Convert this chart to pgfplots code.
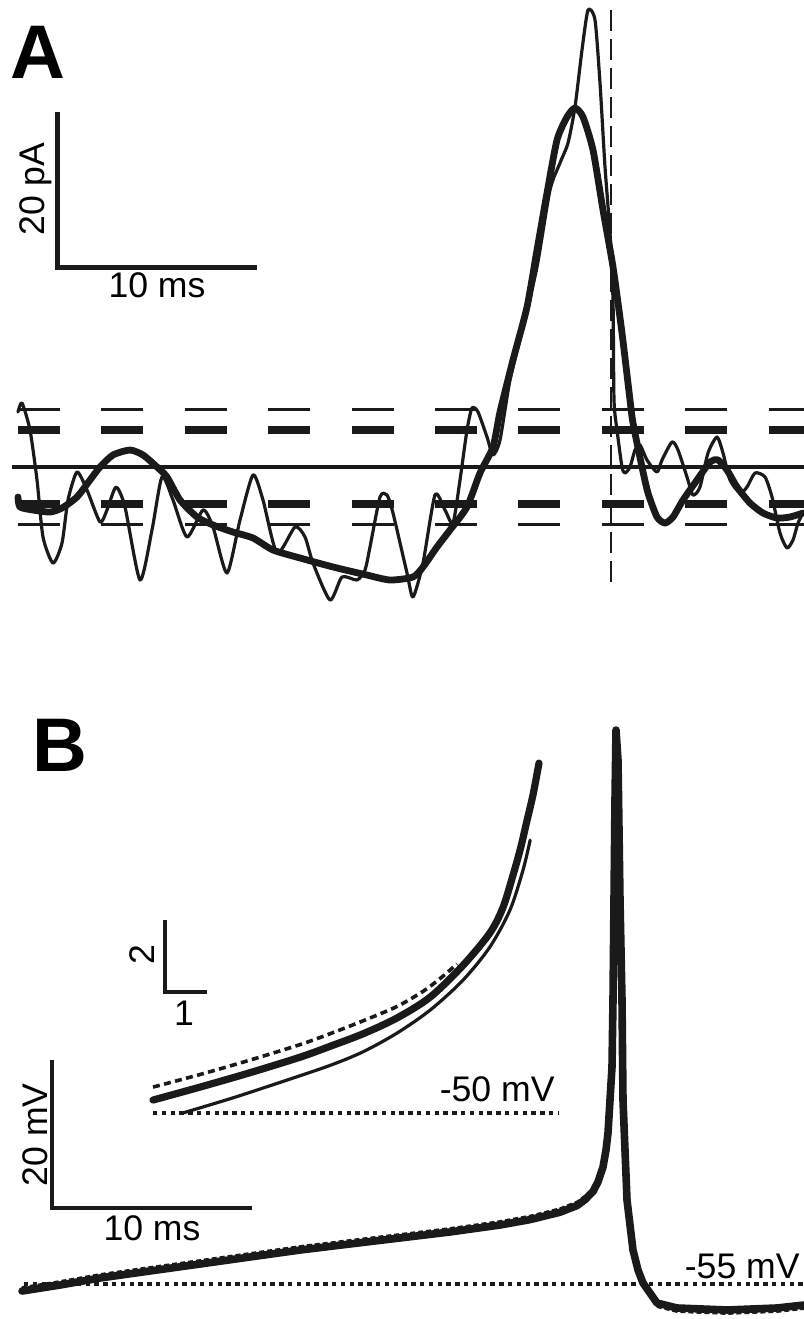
\documentclass[border=0pt]{standalone}
\usepackage{fontspec}
\setmainfont{Liberation Sans}
\usepackage{pgfplots}
\pgfplotsset{compat=1.18}
\definecolor{ink}{HTML}{1A1A1A}
\newcommand\lab{\fontsize{17.8}{20}\selectfont}
\newcommand\panellet{\fontsize{38}{40}\selectfont\bfseries}
\pgfplotsset{panel/.style={hide axis, clip=false, no markers, enlargelimits=false,
  every axis plot/.append style={ink, line join=round, line cap=round}}}
\begin{document}
\begin{tikzpicture}
\path[use as bounding box] (0,0) rectangle (402pt,-659.5pt);
% ---------------- Panel A ----------------
\begin{axis}[panel, at={(0pt,-303.25pt)}, anchor=south west,
  x=10pt, y=3.875pt, xmin=0, xmax=40.2, ymin=-18, ymax=60.26]
% reference lines
\addplot[line width=1.6pt, line cap=butt] coordinates {(0.6,0) (40.2,0)};
\addplot[line width=1.8pt, line cap=butt, dash pattern=on 21pt off 20.7pt] coordinates {(0.9,7.42) (40.2,7.42)};
\addplot[line width=4.2pt, line cap=butt, dash pattern=on 21pt off 20.7pt] coordinates {(0.9,4.75) (40.2,4.75)};
\addplot[line width=4.2pt, line cap=butt, dash pattern=on 21pt off 20.7pt] coordinates {(0.9,-4.75) (40.2,-4.75)};
\addplot[line width=1.8pt, line cap=butt, dash pattern=on 21pt off 20.7pt] coordinates {(0.9,-7.42) (40.2,-7.42)};
\addplot[line width=1.3pt, line cap=butt, dash pattern=on 10.5pt off 4pt] coordinates {(30.55,58.97) (30.55,-14.84)};
% thin (noisy) current trace
\addplot[line width=1.6pt, smooth, tension=0.4] coordinates {
(0.9,7.10)(1.1,8.26)(1.5,4.77)(1.85,-1.68)(2.15,-9.03)(2.65,-12.39)(3.1,-9.81)(3.4,-4.26)(3.85,-0.65)(4.35,-2.97)(5.0,-7.10)(5.35,-5.55)(5.8,-2.58)(6.25,-5.16)(7.0,-14.58)(7.6,-8.13)(8.1,-1.29)(8.65,-4.26)(9.35,-9.03)(10.15,-5.55)(10.65,-7.74)(11.35,-13.68)(12.0,-6.84)(12.65,-1.03)(13.15,-4.26)(13.85,-11.10)(14.75,-7.74)(15.25,-9.03)(15.65,-12.39)(16.5,-17.16)(17.1,-14.19)(17.85,-14.58)(18.25,-13.29)(18.5,-10.32)(19.0,-3.87)(19.35,-3.61)(19.65,-5.94)(20.35,-13.68)(20.65,-16.77)(21.15,-12.39)(21.75,-3.61)(22.25,-5.55)(22.65,-7.23)(23.0,-1.68)(23.35,4.77)(23.6,7.61)(23.9,7.10)(24.35,3.87)(24.65,1.55)(25.0,3.48)(25.5,11.23)(26.15,18.06)(26.85,25.81)(27.5,35.74)(28.0,39.23)(28.4,41.81)(28.75,46.45)(29.1,53.81)(29.4,58.97)(29.75,57.68)(30.0,49.55)(30.25,38.71)(30.5,30.19)(30.65,21.55)(30.7,8.65)(30.85,4.77)(31.1,0)(31.25,-0.77)(31.5,0)(31.75,2.19)(32.0,2.84)(32.35,0.90)(32.85,-0.65)(33.1,0.90)(33.6,3.23)(33.9,2.19)(34.35,-1.29)(34.65,-3.61)(35.0,-2.58)(35.4,1.81)(35.85,3.87)(36.15,1.81)(36.5,-1.68)(37.0,-3.35)(37.35,-2.58)(37.75,-0.77)(38.25,-1.29)(38.6,-3.87)(39.0,-8.52)(39.35,-10.45)(39.65,-9.42)(39.9,-7.23)(40.15,-5.94)};
% thick (smooth) current trace
\addplot[line width=3.4pt, smooth, tension=0.4] coordinates {
(0.9,-3.87)(1.0,-5.16)(1.65,-5.55)(2.5,-5.81)(3.1,-5.29)(3.85,-3.87)(4.5,-1.68)(5.0,0)(5.65,1.55)(6.5,2.19)(7.15,1.55)(7.85,0)(8.35,-1.29)(9.0,-4.26)(9.85,-6.45)(10.65,-7.48)(11.65,-8.39)(12.65,-9.16)(13.65,-10.71)(15.0,-11.74)(16.65,-12.90)(18.35,-13.94)(19.5,-14.58)(20.65,-14.19)(21.15,-12.90)(21.85,-10.32)(22.5,-8.13)(23.35,-5.16)(24.0,-0.77)(24.65,2.58)(25.0,7.10)(25.65,13.81)(26.35,20.65)(26.85,28.0)(27.35,35.35)(27.85,42.19)(28.35,45.16)(28.75,46.32)(29.15,45.16)(29.65,40.90)(30.15,33.16)(30.65,25.81)(31.1,17.29)(31.5,8.65)(31.65,5.68)(32.1,0)(32.4,-3.35)(32.85,-6.45)(33.25,-7.23)(33.65,-6.45)(34.15,-4.26)(34.85,-1.68)(35.5,0.65)(35.9,0.90)(36.35,-0.39)(36.85,-2.58)(37.5,-4.65)(38.15,-5.94)(38.85,-6.58)(39.5,-6.45)(40.15,-5.94)};
% scale bar
\addplot[line width=2.5pt, line cap=butt, line join=miter] coordinates {(2.85,45.8) (2.85,25.8) (12.85,25.8)};
\node[font=\lab, rotate=90, inner sep=0pt] at (axis cs:1.8,35.87) {20 pA};
\node[font=\lab, inner sep=0pt] at (axis cs:7.85,23.4) {10 ms};
\node[font=\panellet, inner sep=0pt] at (axis cs:1.9,53.55) {A};
\end{axis}
% ---------------- Panel B ----------------
\begin{axis}[panel, at={(0pt,-659.5pt)}, anchor=south west,
  x=10pt, y=3.7pt, xmin=0, xmax=40.2, ymin=-59.73, ymax=32.03]
\addplot[line width=1.6pt, line cap=butt, dash pattern=on 2.2pt off 2.2pt] coordinates {(1.2,-55) (40.2,-55)};
\addplot[line width=3.8pt] coordinates {
(1.1,-55.95)(3.0,-55.14)(5.0,-54.19)(7.5,-53.24)(10,-52.30)(12.5,-51.35)(15,-50.41)(17.5,-49.59)(20,-48.78)(22.5,-47.97)(25,-47.03)(26.5,-46.3)(28,-45.3)(28.85,-44.4)(29.25,-43.6)(29.65,-42.5)(29.9,-41.2)(30.15,-39.19)(30.3,-36.89)(30.4,-34.59)(30.5,-30.14)(30.6,-25.68)(30.65,-16.62)(30.7,-3.11)(30.75,10.41)(30.8,19.86)(30.9,15.81)(31.0,-3.11)(31.1,-16.62)(31.15,-30.14)(31.35,-43.65)(31.65,-50.41)(31.9,-53.11)(32.15,-54.86)(32.85,-57.57)(33.85,-58.24)(36.35,-58.51)(38.85,-58.24)(40.2,-57.84)};
\addplot[line width=1.6pt, line cap=butt, dash pattern=on 2.5pt off 1.5pt] coordinates {
(1.1,-55.5)(3.0,-54.69)(5.0,-53.74)(7.5,-52.79)(10,-51.85)(12.5,-50.9)(15,-49.96)(17.5,-49.14)(20,-48.33)(22.5,-47.52)(25,-46.58)(26.5,-45.85)(28,-44.85)(28.85,-43.95)(29.25,-43.15)};
\addplot[line width=1.6pt, line cap=butt, dash pattern=on 2.5pt off 1.5pt] coordinates {
(32.85,-58.02)(33.85,-58.69)(36.35,-58.96)(38.85,-58.69)(40.2,-58.29)};
% scale bar
\addplot[line width=2.2pt, line cap=butt, line join=miter] coordinates {(2.6,-24.73) (2.6,-44.73) (12.6,-44.73)};
\node[font=\lab, rotate=90, inner sep=0pt] at (axis cs:1.75,-34.86) {20 mV};
\node[font=\lab, inner sep=0pt] at (axis cs:7.6,-47.5) {10 ms};
\node[font=\lab, inner sep=0pt, anchor=base east] at (axis cs:40.0,-54.19) {-55 mV};
\node[font=\panellet, inner sep=0pt] at (axis cs:3.0,17.77) {B};
\end{axis}
% ---------------- Inset ----------------
\begin{axis}[panel, at={(55.5pt,-565.5pt)}, anchor=south west,
  x=21pt, y=18pt, xmin=-1, xmax=10, ymin=-50.5, ymax=-40]
\addplot[line width=1.6pt, line cap=butt, dash pattern=on 2.2pt off 2.2pt] coordinates {(0,-50) (9.64,-50)};
\addplot[line width=1.8pt, line cap=butt, dash pattern=on 3.5pt off 2.2pt, smooth] coordinates {
(0,-49.28)(1.12,-48.93)(2.31,-48.53)(3.5,-48.1)(4.21,-47.8)(5.0,-47.44)(5.81,-47.04)(6.43,-46.62)(6.83,-46.27)(7.24,-45.86)};
\addplot[line width=1.6pt, smooth] coordinates {
(0.71,-50.0)(1.90,-49.58)(3.10,-49.12)(4.21,-48.68)(5.0,-48.3)(5.81,-47.78)(6.6,-47.14)(7.38,-46.31)(8.02,-45.39)(8.5,-44.36)(8.81,-43.25)(8.98,-42.42)};
\addplot[line width=3.6pt, smooth] coordinates {
(0,-49.64)(1.12,-49.28)(2.31,-48.88)(3.5,-48.45)(4.21,-48.15)(5.0,-47.8)(5.81,-47.36)(6.6,-46.78)(7.38,-45.9)(8.02,-45.0)(8.33,-44.3)(8.57,-43.4)(8.75,-42.65)(8.90,-41.9)(9.05,-41.15)(9.19,-40.28)};
\addplot[line width=2.2pt, line cap=butt, line join=miter] coordinates {(0.286,-44.64) (0.286,-46.64) (1.286,-46.64)};
\node[font=\lab, rotate=90, inner sep=0pt] at (axis cs:-0.26,-45.61) {2};
\node[font=\lab, inner sep=0pt] at (axis cs:0.74,-47.22) {1};
\node[font=\lab, inner sep=0pt, anchor=base east] at (axis cs:9.57,-49.69) {-50 mV};
\end{axis}
\end{tikzpicture}
\end{document}
